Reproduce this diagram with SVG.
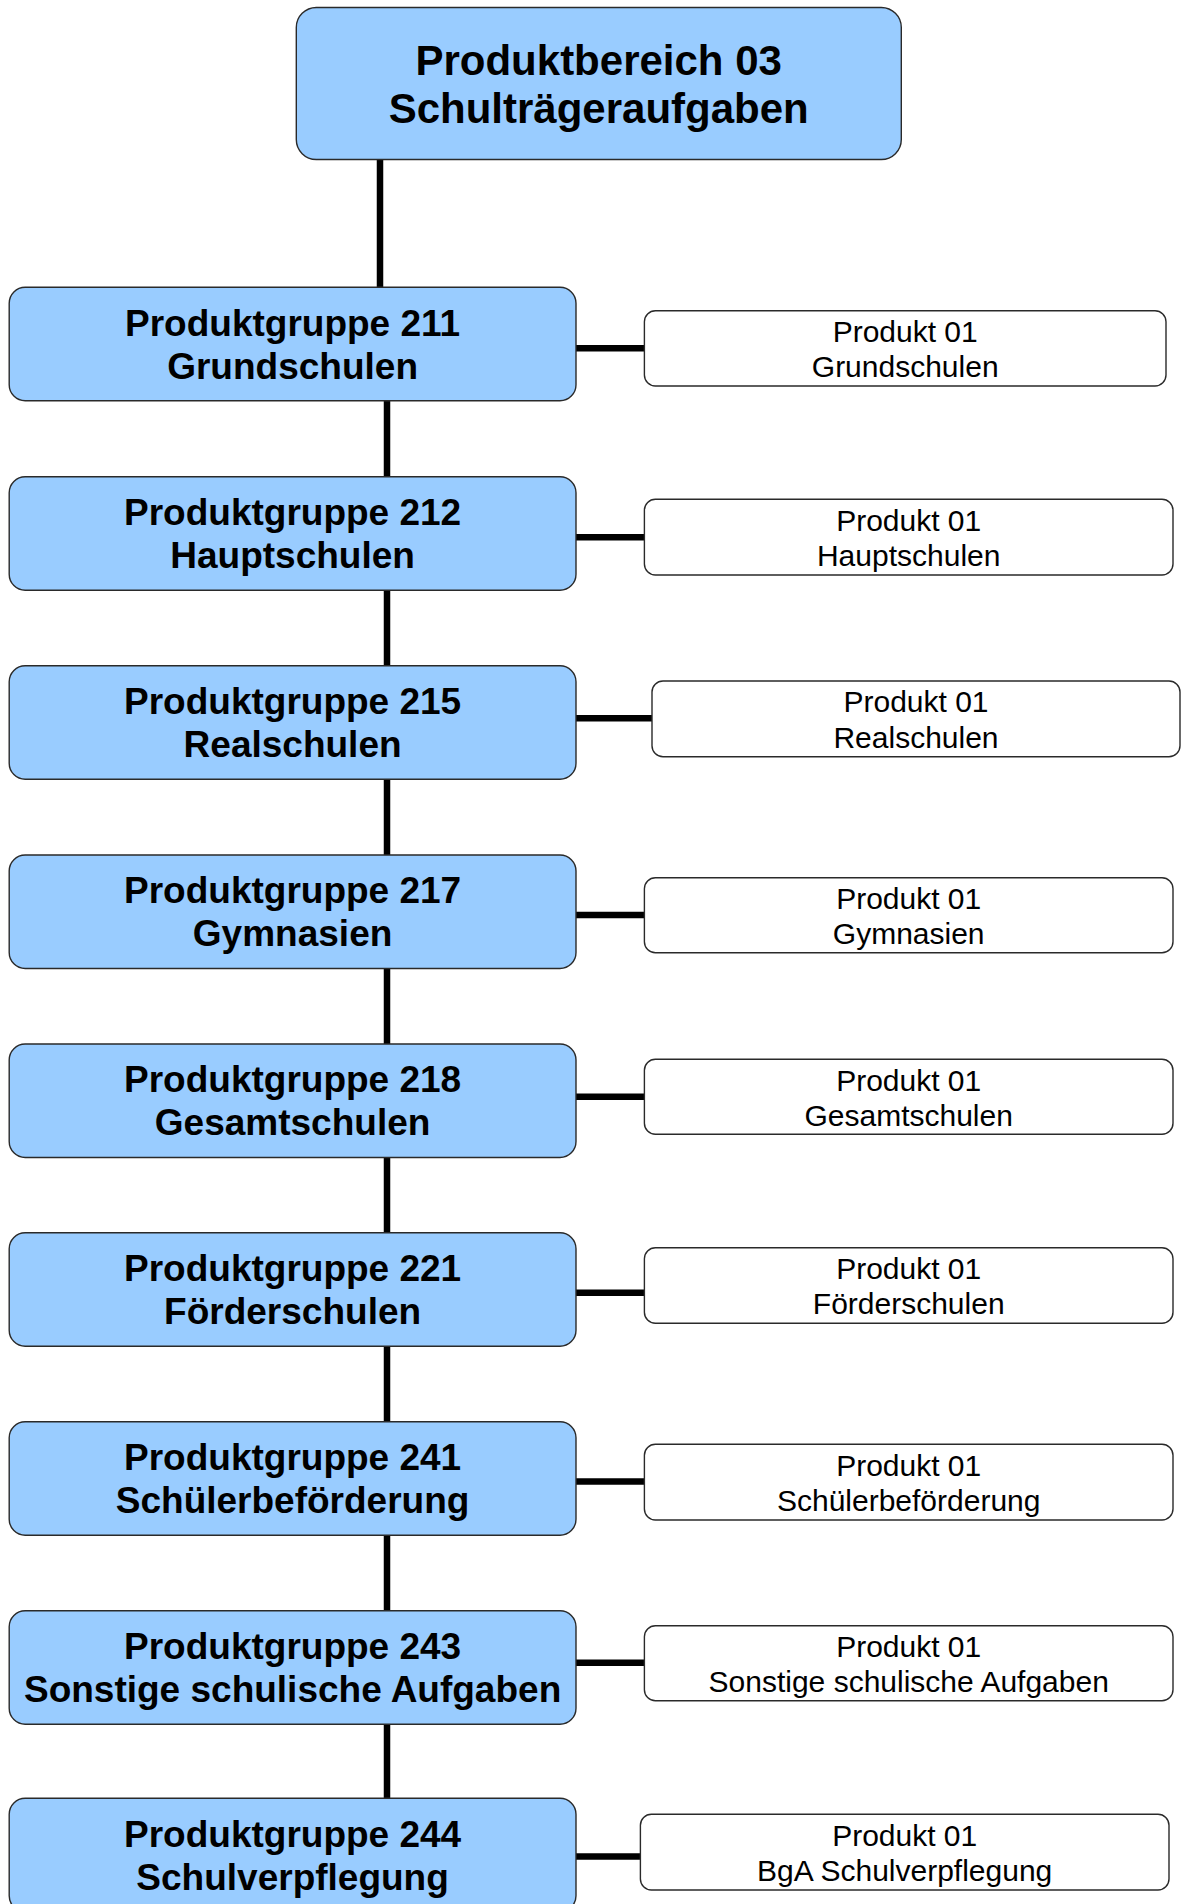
<svg xmlns="http://www.w3.org/2000/svg" width="1181" height="1904" viewBox="0 0 1181 1904">
<style>
.bg{fill:#ffffff}
.blue{fill:#99ccff;stroke:#2a2a2a;stroke-width:1.4}
.prod{fill:#ffffff;stroke:#2a2a2a;stroke-width:1.4}
.conn{stroke:#000000;stroke-width:6.5;fill:none}
.t{font-family:"Liberation Sans",Arial,sans-serif;text-anchor:middle;fill:#000000}
.th{font-size:42px;font-weight:bold}
.tg{font-size:37px;font-weight:bold}
.tp{font-size:30px}
</style>
<rect class="bg" x="0" y="0" width="1181" height="1904"/>
<g id="connectors">
<line class="conn" x1="380" y1="159" x2="380" y2="288"/>
<line class="conn" x1="387" y1="400" x2="387" y2="1799"/>
<line class="conn" x1="576" y1="348.3" x2="645" y2="348.3"/>
<line class="conn" x1="576" y1="537.3" x2="645" y2="537.3"/>
<line class="conn" x1="576" y1="718.3" x2="652" y2="718.3"/>
<line class="conn" x1="576" y1="915" x2="645" y2="915"/>
<line class="conn" x1="576" y1="1096.7" x2="645" y2="1096.7"/>
<line class="conn" x1="576" y1="1292.8" x2="645" y2="1292.8"/>
<line class="conn" x1="576" y1="1481.5" x2="645" y2="1481.5"/>
<line class="conn" x1="576" y1="1662.7" x2="645" y2="1662.7"/>
<line class="conn" x1="576" y1="1856.5" x2="641" y2="1856.5"/>
</g>
<g id="root">
<rect class="blue" x="296.3" y="7.5" width="605" height="152" rx="20"/>
<text class="t th" x="598.7" y="75">Produktbereich 03</text>
<text class="t th" x="598.7" y="122.7">Schulträgeraufgaben</text>
</g>
<g id="pg211">
<rect class="blue" x="9.2" y="287.3" width="566.8" height="113.5" rx="16"/>
<text class="t tg" x="292.6" y="335.6">Produktgruppe 211</text>
<text class="t tg" x="292.6" y="378.6">Grundschulen</text>
</g>
<g id="pg212">
<rect class="blue" x="9.2" y="476.7" width="566.8" height="113.5" rx="16"/>
<text class="t tg" x="292.6" y="525">Produktgruppe 212</text>
<text class="t tg" x="292.6" y="568">Hauptschulen</text>
</g>
<g id="pg215">
<rect class="blue" x="9.2" y="665.7" width="566.8" height="113.5" rx="16"/>
<text class="t tg" x="292.6" y="714">Produktgruppe 215</text>
<text class="t tg" x="292.6" y="757">Realschulen</text>
</g>
<g id="pg217">
<rect class="blue" x="9.2" y="855" width="566.8" height="113.5" rx="16"/>
<text class="t tg" x="292.6" y="903.3">Produktgruppe 217</text>
<text class="t tg" x="292.6" y="946.3">Gymnasien</text>
</g>
<g id="pg218">
<rect class="blue" x="9.2" y="1044" width="566.8" height="113.5" rx="16"/>
<text class="t tg" x="292.6" y="1092.3">Produktgruppe 218</text>
<text class="t tg" x="292.6" y="1135.3">Gesamtschulen</text>
</g>
<g id="pg221">
<rect class="blue" x="9.2" y="1232.7" width="566.8" height="113.5" rx="16"/>
<text class="t tg" x="292.6" y="1281">Produktgruppe 221</text>
<text class="t tg" x="292.6" y="1324">Förderschulen</text>
</g>
<g id="pg241">
<rect class="blue" x="9.2" y="1421.7" width="566.8" height="113.5" rx="16"/>
<text class="t tg" x="292.6" y="1470">Produktgruppe 241</text>
<text class="t tg" x="292.6" y="1513">Schülerbeförderung</text>
</g>
<g id="pg243">
<rect class="blue" x="9.2" y="1610.7" width="566.8" height="113.5" rx="16"/>
<text class="t tg" x="292.6" y="1659">Produktgruppe 243</text>
<text class="t tg" x="292.6" y="1702">Sonstige schulische Aufgaben</text>
</g>
<g id="pg244">
<rect class="blue" x="9.2" y="1798.3" width="566.8" height="113.5" rx="16"/>
<text class="t tg" x="292.6" y="1846.6">Produktgruppe 244</text>
<text class="t tg" x="292.6" y="1889.6">Schulverpflegung</text>
</g>
<g id="p211">
<rect class="prod" x="644.4" y="310.7" width="521.6" height="75.3" rx="11"/>
<text class="t tp" x="905.2" y="342">Produkt 01</text>
<text class="t tp" x="905.2" y="377.3">Grundschulen</text>
</g>
<g id="p212">
<rect class="prod" x="644.4" y="499.3" width="528.6" height="75.7" rx="11"/>
<text class="t tp" x="908.7" y="530.6">Produkt 01</text>
<text class="t tp" x="908.7" y="565.9">Hauptschulen</text>
</g>
<g id="p215">
<rect class="prod" x="652" y="681" width="528" height="75.7" rx="11"/>
<text class="t tp" x="916" y="712.3">Produkt 01</text>
<text class="t tp" x="916" y="747.6">Realschulen</text>
</g>
<g id="p217">
<rect class="prod" x="644.4" y="877.7" width="528.6" height="75" rx="11"/>
<text class="t tp" x="908.7" y="909">Produkt 01</text>
<text class="t tp" x="908.7" y="944.3">Gymnasien</text>
</g>
<g id="p218">
<rect class="prod" x="644.4" y="1059.3" width="528.6" height="75" rx="11"/>
<text class="t tp" x="908.7" y="1090.6">Produkt 01</text>
<text class="t tp" x="908.7" y="1125.9">Gesamtschulen</text>
</g>
<g id="p221">
<rect class="prod" x="644.4" y="1247.7" width="528.6" height="75.6" rx="11"/>
<text class="t tp" x="908.7" y="1279">Produkt 01</text>
<text class="t tp" x="908.7" y="1314.3">Förderschulen</text>
</g>
<g id="p241">
<rect class="prod" x="644.4" y="1444.3" width="528.6" height="75.7" rx="11"/>
<text class="t tp" x="908.7" y="1475.6">Produkt 01</text>
<text class="t tp" x="908.7" y="1510.9">Schülerbeförderung</text>
</g>
<g id="p243">
<rect class="prod" x="644.4" y="1625.7" width="528.6" height="75" rx="11"/>
<text class="t tp" x="908.7" y="1657">Produkt 01</text>
<text class="t tp" x="908.7" y="1692.3">Sonstige schulische Aufgaben</text>
</g>
<g id="p244">
<rect class="prod" x="640.4" y="1814.3" width="528.6" height="75.7" rx="11"/>
<text class="t tp" x="904.7" y="1845.6">Produkt 01</text>
<text class="t tp" x="904.7" y="1880.9">BgA Schulverpflegung</text>
</g>
</svg>
